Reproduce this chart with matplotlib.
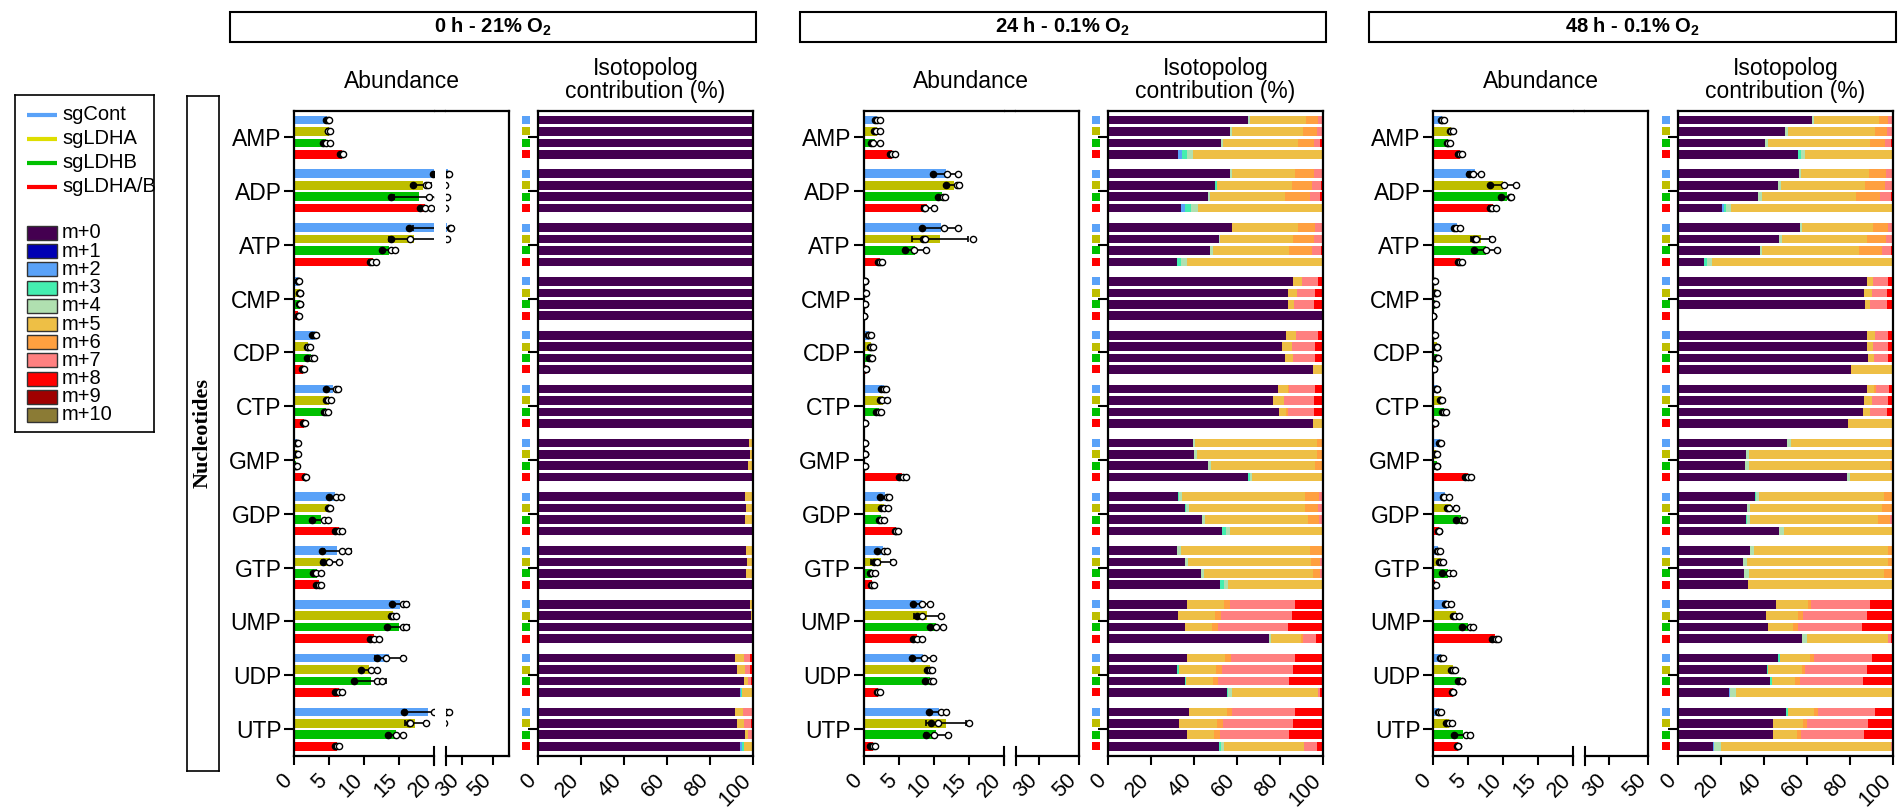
import numpy as np
import matplotlib
matplotlib.use('Agg')
import matplotlib.pyplot as plt
import matplotlib.transforms as mtransforms
from matplotlib.patches import Rectangle

plt.rcParams['font.family'] = ['Liberation Sans', 'DejaVu Sans']
plt.rcParams['mathtext.fontset'] = 'custom'
plt.rcParams['mathtext.rm'] = 'Liberation Sans'
plt.rcParams['mathtext.bf'] = 'Liberation Sans:bold'

metabolites = ['AMP', 'ADP', 'ATP', 'CMP', 'CDP', 'CTP',
               'GMP', 'GDP', 'GTP', 'UMP', 'UDP', 'UTP']
groups = ['sgCont', 'sgLDHA', 'sgLDHB', 'sgLDHA/B']
group_colors = ['#5AA2F8', '#BEBE00', '#00C000', '#FF0000']
legend_colors = ['#5AA2F8', '#DEDE00', '#00C000', '#FF0000']
isotopologs = ['m+%d' % i for i in range(11)]
iso_colors = ['#440050', '#0000B4', '#5AA2F8', '#44EEB0', '#B0E0B0', '#EEBF45',
              '#FFA040', '#FF8080', '#FF0000', '#A00000', '#8B7B35']
conditions = [r'0 h - 21% O$_\mathbf{2}$', r'24 h - 0.1% O$_\mathbf{2}$',
              r'48 h - 0.1% O$_\mathbf{2}$']

# abundance, three replicates per metabolite (order as in metabolites)
cont_0h = [[4.5, 4.8, 5.0], [19.9, 21.4, 21.7], [16.4, 22.4, 23.0], [0.5, 0.6, 0.7],
           [2.6, 3.0, 3.2], [4.6, 6.0, 6.3], [0.3, 0.4, 0.5], [5.0, 6.0, 6.7],
           [4.0, 6.9, 7.7], [14.0, 15.6, 16.0], [11.8, 13.2, 15.5], [15.7, 19.95, 21.9]]
ldha_0h = [[4.8, 4.9, 5.1], [17.0, 18.9, 19.2], [13.9, 16.6, 20.8], [0.7, 0.8, 0.9],
           [1.8, 2.0, 2.3], [4.6, 4.9, 5.3], [0.3, 0.4, 0.5], [4.8, 5.0, 5.2],
           [4.1, 5.0, 6.4], [13.8, 14.1, 14.6], [9.5, 11.0, 11.8], [16.4, 16.6, 18.9]]
ldhb_0h = [[4.1, 4.6, 5.2], [13.8, 19.3, 20.6], [12.5, 13.9, 14.4], [0.7, 0.8, 0.9],
           [1.9, 2.5, 2.8], [4.3, 4.6, 4.9], [0.2, 0.3, 0.4], [2.6, 4.3, 4.8],
           [2.7, 3.2, 3.9], [13.3, 15.5, 16.0], [8.5, 11.9, 12.6], [13.4, 14.6, 15.6]]
ldhab_0h = [[6.6, 6.8, 7.0], [18.0, 18.7, 19.6], [10.8, 11.2, 11.7], [0.5, 0.6, 0.7],
            [1.2, 1.3, 1.4], [1.3, 1.4, 1.5], [1.5, 1.6, 1.7], [5.8, 6.4, 6.9],
            [3.2, 3.5, 3.8], [10.9, 11.4, 12.1], [5.9, 6.4, 6.8], [5.9, 6.2, 6.4]]

cont_24h = [[1.6, 1.9, 2.3], [9.9, 11.9, 13.5], [8.3, 11.5, 13.5], [0.15, 0.2, 0.25],
            [0.6, 0.8, 1.0], [2.5, 2.9, 3.2], [0.1, 0.15, 0.2], [2.4, 3.3, 3.7],
            [1.9, 2.9, 3.4], [7.0, 8.4, 9.5], [6.9, 8.6, 9.9], [9.4, 11.1, 11.8]]
ldha_24h = [[1.5, 1.8, 2.3], [11.8, 13.3, 13.7], [8.5, 8.8, 15.6], [0.2, 0.25, 0.3],
            [0.9, 1.1, 1.3], [2.3, 2.6, 3.3], [0.15, 0.2, 0.25], [2.5, 2.9, 3.5],
            [1.5, 1.9, 4.2], [7.6, 8.4, 11.1], [9.0, 9.5, 9.8], [9.6, 10.6, 15.0]]
ldhb_24h = [[1.1, 1.3, 2.4], [10.6, 11.3, 11.6], [5.9, 7.2, 8.9], [0.1, 0.15, 0.2],
            [0.8, 1.0, 1.2], [1.8, 2.2, 2.5], [0.1, 0.15, 0.2], [2.2, 2.5, 2.9],
            [0.9, 1.2, 1.6], [9.5, 10.3, 11.3], [8.8, 9.7, 9.9], [8.9, 10.0, 12.0]]
ldhab_24h = [[3.8, 4.1, 4.5], [8.6, 8.8, 10.0], [2.1, 2.3, 2.6], [0.05, 0.1, 0.1],
             [0.2, 0.3, 0.4], [0.1, 0.15, 0.2], [5.1, 5.6, 6.0], [4.5, 4.7, 4.9],
             [1.0, 1.2, 1.5], [7.1, 7.6, 8.3], [1.9, 2.1, 2.3], [0.9, 1.4, 1.7]]

cont_48h = [[1.1, 1.3, 1.6], [5.2, 5.7, 6.9], [3.0, 3.3, 3.8], [0.15, 0.2, 0.25],
            [0.15, 0.2, 0.25], [0.4, 0.5, 0.6], [0.9, 1.0, 1.2], [1.4, 1.6, 2.3],
            [0.5, 0.7, 1.0], [1.7, 2.0, 2.5], [1.0, 1.2, 1.4], [0.7, 0.9, 1.1]]
ldha_48h = [[2.4, 2.6, 2.8], [8.2, 10.2, 11.8], [5.8, 6.2, 8.4], [0.35, 0.45, 0.55],
            [0.4, 0.5, 0.6], [1.0, 1.1, 1.3], [0.3, 0.4, 0.5], [2.0, 2.3, 3.3],
            [0.9, 1.1, 1.4], [2.9, 3.2, 3.7], [2.5, 2.8, 3.1], [1.8, 2.3, 2.7]]
ldhb_48h = [[2.0, 2.2, 2.4], [9.7, 11.0, 11.2], [5.9, 7.5, 9.1], [0.2, 0.3, 0.4],
            [0.5, 0.6, 0.7], [1.3, 1.6, 1.8], [0.4, 0.5, 0.6], [3.3, 4.1, 4.4],
            [1.3, 2.3, 2.9], [4.2, 5.3, 5.7], [3.5, 4.1, 4.2], [3.0, 4.7, 5.3]]
ldhab_48h = [[3.5, 3.8, 4.1], [8.1, 8.4, 9.0], [3.5, 3.8, 4.2], [0.0, 0.05, 0.05],
             [0.05, 0.1, 0.1], [0.2, 0.3, 0.35], [4.6, 5.0, 5.4], [0.7, 0.8, 0.9],
             [0.2, 0.3, 0.4], [8.4, 9.0, 9.3], [2.7, 2.8, 2.9], [3.4, 3.5, 3.6]]

# isotopolog contribution (%), {isotopolog index: percent}
iso_cont_0h = [{0: 100}, {0: 99.5, 5: 0.5}, {0: 100}, {0: 100}, {0: 100}, {0: 100},
               {0: 98, 5: 2}, {0: 96.1, 5: 3.9}, {0: 96.6, 3: 0.3, 5: 3.1},
               {0: 98.4, 5: 1.2, 7: 0.4}, {0: 91.4, 5: 4.4, 7: 3.0, 8: 1.2},
               {0: 91.4, 5: 3.9, 7: 4.2, 8: 0.5}]
iso_ldha_0h = [{0: 100}, {0: 99.5, 5: 0.5}, {0: 100}, {0: 100}, {0: 100}, {0: 100},
               {0: 98.4, 5: 1.6}, {0: 96.6, 5: 3.4}, {0: 97, 5: 3},
               {0: 98.9, 5: 0.8, 7: 0.3}, {0: 92.4, 3: 0.3, 5: 3.4, 7: 2.7, 8: 1.2},
               {0: 92.4, 5: 3.2, 7: 3.4, 8: 1.0}]
iso_ldhb_0h = [{0: 100}, {0: 99.5, 5: 0.5}, {0: 99.5, 5: 0.5}, {0: 100}, {0: 100}, {0: 100},
               {0: 97.5, 5: 2.5}, {0: 96.1, 5: 3.9}, {0: 96.6, 5: 3.4},
               {0: 99.4, 5: 0.6}, {0: 95.6, 5: 1.9, 7: 1.7, 8: 0.8},
               {0: 96.1, 5: 1.4, 7: 1.9, 8: 0.6}]
iso_ldhab_0h = [{0: 100}, {0: 99.5, 5: 0.5}, {0: 99.5, 5: 0.5}, {0: 100}, {0: 100}, {0: 100},
                {0: 100}, {0: 99.5, 5: 0.5}, {0: 100},
                {0: 100}, {0: 93.8, 2: 0.6, 3: 0.6, 5: 5.0},
                {0: 94, 2: 1.0, 3: 0.6, 5: 4.4}]

iso_cont_24h = [{0: 65.2, 4: 0.7, 5: 26.4, 6: 5.4, 7: 2.3},
                {0: 56.9, 4: 1.0, 5: 29.3, 6: 8.8, 7: 4.0},
                {0: 57.9, 5: 30.3, 6: 8.1, 7: 3.7},
                {0: 86.2, 5: 3.8, 7: 7.8, 8: 2.2},
                {0: 83.0, 5: 4.5, 7: 10.0, 8: 2.5},
                {0: 78.9, 5: 5.0, 6: 0.5, 7: 12.1, 8: 3.5},
                {0: 39.4, 4: 0.9, 5: 56.7, 6: 3.0},
                {0: 32.6, 3: 0.5, 4: 1.3, 5: 57.4, 6: 6.5, 7: 1.7},
                {0: 32.3, 4: 1.6, 5: 60.1, 6: 6.0},
                {0: 36.9, 5: 17.2, 6: 2.6, 7: 30.5, 8: 12.8},
                {0: 36.9, 5: 17.7, 6: 2.6, 7: 30.0, 8: 12.8},
                {0: 37.8, 5: 17.4, 6: 2.5, 7: 29.5, 8: 12.8}]
iso_ldha_24h = [{0: 56.9, 4: 1.0, 5: 32.6, 6: 6.5, 7: 3.0},
                {0: 49.9, 3: 1.0, 5: 34.5, 6: 9.6, 7: 4.3, 8: 0.7},
                {0: 51.4, 4: 0.7, 5: 34.1, 6: 9.8, 7: 4.0},
                {0: 83.9, 5: 3.8, 7: 8.8, 8: 3.5},
                {0: 80.9, 5: 4.6, 7: 11.0, 8: 3.5},
                {0: 76.9, 5: 5.1, 7: 14.0, 8: 4.0},
                {0: 40.1, 4: 1.3, 5: 55.6, 6: 3.0},
                {0: 35.9, 3: 0.5, 4: 1.2, 5: 54.2, 6: 5.9, 7: 2.3},
                {0: 35.9, 4: 1.2, 5: 57.1, 6: 4.3, 7: 1.5},
                {0: 32.6, 5: 17.3, 6: 2.7, 7: 32.8, 8: 14.6},
                {0: 32.3, 3: 0.6, 5: 17.5, 6: 2.7, 7: 32.8, 8: 14.1},
                {0: 33.1, 5: 17.8, 6: 2.7, 7: 32.3, 8: 14.1}]
iso_ldhb_24h = [{0: 52.7, 4: 0.9, 5: 34.9, 6: 7.5, 7: 2.8, 8: 1.2},
                {0: 46.3, 4: 1.1, 5: 35.1, 6: 11.3, 7: 5.0, 8: 1.2},
                {0: 47.6, 4: 1.3, 5: 35.5, 6: 10.6, 7: 4.3, 8: 0.7},
                {0: 83.9, 5: 2.8, 7: 9.3, 8: 4.0},
                {0: 82.5, 5: 3.5, 7: 10.5, 8: 3.5},
                {0: 79.7, 5: 3.3, 6: 0.7, 7: 12.3, 8: 4.0},
                {0: 46.6, 4: 1.5, 5: 48.4, 6: 3.5},
                {0: 43.9, 4: 1.4, 5: 47.9, 6: 5.1, 7: 1.7},
                {0: 43.4, 4: 1.2, 5: 50.6, 6: 3.3, 7: 1.5},
                {0: 35.9, 5: 12.5, 6: 2.7, 7: 32.6, 8: 16.3},
                {0: 35.9, 3: 0.5, 5: 12.5, 6: 2.3, 7: 33.2, 8: 15.6},
                {0: 36.9, 5: 12.5, 6: 2.7, 7: 32.3, 8: 15.6}]
iso_ldhab_24h = [{0: 32.6, 2: 2.0, 3: 2.3, 4: 2.7, 5: 60.4},
                 {0: 34.1, 2: 1.7, 3: 2.8, 4: 3.3, 5: 58.1},
                 {0: 31.9, 3: 2.2, 4: 2.8, 5: 63.1},
                 {0: 100},
                 {0: 95.5, 5: 4.5},
                 {0: 95.2, 5: 4.8},
                 {0: 64.9, 3: 1.0, 4: 1.2, 5: 32.9},
                 {0: 53.2, 3: 1.7, 4: 1.8, 5: 43.3},
                 {0: 52.1, 3: 2.0, 4: 1.6, 5: 44.3},
                 {0: 75.0, 4: 1.0, 5: 13.7, 6: 1.0, 7: 6.1, 8: 3.2},
                 {0: 55.2, 3: 0.5, 4: 2.0, 5: 39.8, 7: 1.3, 8: 1.2},
                 {0: 51.7, 3: 1.0, 4: 1.4, 5: 37.2, 7: 6.0, 8: 2.7}]

iso_cont_48h = [{0: 62.4, 4: 1.0, 5: 29.9, 6: 4.4, 7: 2.3},
                {0: 56.5, 4: 0.8, 5: 31.7, 6: 7.9, 7: 3.1},
                {0: 56.8, 4: 0.8, 5: 33.2, 6: 7.1, 7: 2.1},
                {0: 87.7, 5: 3.1, 7: 7.1, 8: 2.1},
                {0: 88.0, 5: 3.8, 7: 6.1, 8: 2.1},
                {0: 88.0, 5: 3.1, 6: 1.0, 7: 6.1, 8: 1.8},
                {0: 50.7, 4: 1.7, 5: 46.0, 6: 1.6},
                {0: 35.8, 3: 0.5, 4: 1.5, 5: 57.9, 6: 3.8, 7: 0.5},
                {0: 33.3, 4: 2.0, 5: 62.6, 6: 2.1},
                {0: 45.5, 5: 14.9, 6: 1.5, 7: 27.6, 8: 10.5},
                {0: 46.5, 3: 0.8, 5: 14.1, 6: 2.0, 7: 26.6, 8: 10.0},
                {0: 50.2, 3: 0.9, 5: 12.3, 6: 1.8, 7: 26.6, 8: 8.2}]
iso_ldha_48h = [{0: 49.8, 4: 1.3, 5: 40.7, 6: 5.6, 7: 2.6},
                {0: 46.6, 4: 1.2, 5: 39.4, 6: 8.9, 7: 3.9},
                {0: 47.0, 4: 1.4, 5: 39.6, 6: 8.6, 7: 3.4},
                {0: 86.7, 5: 3.4, 7: 7.3, 8: 2.6},
                {0: 87.7, 5: 2.9, 7: 7.3, 8: 2.1},
                {0: 86.7, 5: 3.4, 7: 7.8, 8: 2.1},
                {0: 31.5, 4: 1.7, 5: 66.3, 6: 0.5},
                {0: 32.0, 4: 1.7, 5: 61.4, 6: 4.4, 7: 0.5},
                {0: 30.2, 4: 1.8, 5: 65.9, 6: 2.1},
                {0: 40.9, 5: 14.9, 6: 2.3, 7: 29.6, 8: 12.3},
                {0: 41.4, 3: 0.6, 5: 15.6, 6: 1.5, 7: 28.6, 8: 12.3},
                {0: 44.2, 5: 13.9, 6: 1.8, 7: 28.6, 8: 11.5}]
iso_ldhb_48h = [{0: 40.4, 4: 1.5, 5: 47.6, 6: 6.6, 7: 3.2, 8: 0.7},
                {0: 37.1, 4: 2.0, 5: 43.8, 6: 10.9, 7: 5.1, 8: 1.1},
                {0: 38.1, 4: 1.1, 5: 45.2, 6: 10.7, 7: 4.2, 8: 0.7},
                {0: 87.2, 5: 2.3, 7: 7.9, 8: 2.6},
                {0: 88.5, 5: 2.6, 7: 6.8, 8: 2.1},
                {0: 86.2, 5: 3.0, 6: 0.3, 7: 7.9, 8: 2.6},
                {0: 31.0, 4: 1.8, 5: 65.7, 6: 1.5},
                {0: 31.5, 3: 0.5, 4: 1.7, 5: 59.1, 6: 5.7, 7: 1.5},
                {0: 30.5, 4: 2.5, 5: 62.6, 6: 3.9, 7: 0.5},
                {0: 41.9, 5: 11.6, 6: 2.3, 7: 29.9, 8: 14.3},
                {0: 42.7, 3: 0.8, 5: 11.0, 6: 2.2, 7: 29.5, 8: 13.8},
                {0: 44.2, 5: 11.1, 6: 2.0, 7: 29.4, 8: 13.3}]
iso_ldhab_48h = [{0: 55.8, 3: 1.5, 4: 1.6, 5: 41.1},
                 {0: 20.5, 2: 0.8, 3: 1.0, 4: 2.5, 5: 75.2},
                 {0: 12.3, 3: 1.0, 4: 2.3, 5: 84.4},
                 {},
                 {0: 80.6, 5: 19.4},
                 {0: 79.1, 5: 20.9},
                 {0: 78.7, 4: 1.3, 5: 20.0},
                 {0: 47.0, 4: 2.1, 5: 50.9},
                 {0: 32.5, 5: 67.5},
                 {0: 57.6, 4: 2.3, 5: 38.0, 7: 1.4, 8: 0.7},
                 {0: 23.6, 2: 0.7, 4: 2.8, 5: 72.9},
                 {0: 16.1, 2: 0.6, 4: 3.2, 5: 79.0, 7: 1.1}]

abundance = [[cont_0h, ldha_0h, ldhb_0h, ldhab_0h],
             [cont_24h, ldha_24h, ldhb_24h, ldhab_24h],
             [cont_48h, ldha_48h, ldhb_48h, ldhab_48h]]
iso_data = [[iso_cont_0h, iso_ldha_0h, iso_ldhb_0h, iso_ldhab_0h],
            [iso_cont_24h, iso_ldha_24h, iso_ldhb_24h, iso_ldhab_24h],
            [iso_cont_48h, iso_ldha_48h, iso_ldhb_48h, iso_ldhab_48h]]


def to_matrix(rows):
    m = np.zeros((len(rows), len(isotopologs)))
    for i, row in enumerate(rows):
        for j, v in row.items():
            m[i, j] = v
        if m[i].sum() > 0:
            m[i] *= 100.0 / m[i].sum()
    return m


W, H = 1901, 810
fig = plt.figure(figsize=(W / 100, H / 100), dpi=100)


def px_axes(left, top, width, height, **kw):
    return fig.add_axes([left / W, 1 - (top + height) / H, width / W, height / H], **kw)


def fig_xy(x, y):
    return x / W, 1 - y / H


# slanted x tick labels, end of the text just under the tick
label_shift = mtransforms.ScaledTranslation(-0.05, 0, fig.dpi_scale_trans)


def slant_xlabels(ax):
    ax.tick_params(axis='x', length=6.5, width=1.5, pad=9, labelsize=15.5)
    for lab in ax.get_xticklabels():
        lab.set(rotation=45, ha='right', va='center', rotation_mode='anchor')
        lab.set_transform(lab.get_transform() + label_shift)


TOP, PH = 111, 645
abund_left = [294, 863.5, 1433]
iso_left = [538, 1108, 1678]
hi_xlim = [(20, 60), (18, 50), (18, 50)]
n = len(metabolites)
ypos = np.arange(n)
offsets = (np.arange(4) - 1.5) * 0.212
bar_h = 0.16
ylim = (n - 0.5, -0.485)
dot_faces = ['black', 'white', 'white']
spine_lw = 1.6

for p in range(3):
    L, I = abund_left[p], iso_left[p]

    # abundance panel with a broken x axis
    ax_lo = px_axes(L, TOP, 140, PH)
    ax_hi = px_axes(L + 152, TOP, 63, PH, sharey=ax_lo)
    for k, reps in enumerate(abundance[p]):
        reps = np.array(reps)
        mean = reps.mean(axis=1)
        sd = reps.std(axis=1, ddof=1)
        y = ypos + offsets[k]
        for ax in (ax_lo, ax_hi):
            ax.barh(y, mean, height=bar_h, color=group_colors[k], linewidth=0, zorder=2)
            ax.errorbar(mean, y, xerr=sd, fmt='none', ecolor='black', elinewidth=1.2,
                        capsize=2.3, capthick=1.2, zorder=3)
            for r in range(reps.shape[1]):
                ax.scatter(reps[:, r], y, s=20, facecolor=dot_faces[r], edgecolor='black',
                           linewidth=1.0, zorder=4)
    ax_lo.set_xlim(0, 20)
    ax_hi.set_xlim(*hi_xlim[p])
    ax_lo.set_ylim(*ylim)
    ax_lo.set_yticks(ypos)
    ax_lo.set_yticklabels(metabolites, fontsize=16.5)
    ax_lo.tick_params(axis='y', length=7, width=1.5, pad=2)
    ax_hi.tick_params(axis='y', left=False, labelleft=False)
    ax_lo.set_xticks([0, 5, 10, 15, 20])
    ax_hi.set_xticks([30, 50])
    for ax in (ax_lo, ax_hi):
        slant_xlabels(ax)
        for sp in ax.spines.values():
            sp.set_linewidth(spine_lw)
    ax_lo.spines['right'].set_visible(False)
    ax_hi.spines['left'].set_visible(False)
    # top frame across the gap and the break marks
    ax_lo.plot([1, 152 / 140], [1, 1], transform=ax_lo.transAxes, color='black',
               lw=spine_lw, clip_on=False, solid_capstyle='butt')
    ax_lo.plot([1, 1], [-0.014, 0.014], transform=ax_lo.transAxes, color='black',
               lw=1.5, clip_on=False)
    ax_hi.plot([0, 0], [-0.014, 0.014], transform=ax_hi.transAxes, color='black',
               lw=1.5, clip_on=False)

    # isotopolog stacked bars
    ax_iso = px_axes(I, TOP, 215, PH)
    trans = mtransforms.blended_transform_factory(ax_iso.transAxes, ax_iso.transData)
    for k, rows in enumerate(iso_data[p]):
        frac = to_matrix(rows)
        y = ypos + offsets[k]
        left = np.zeros(n)
        for j in range(len(isotopologs)):
            ax_iso.barh(y, frac[:, j], left=left, height=bar_h, color=iso_colors[j], linewidth=0)
            left += frac[:, j]
        ax_iso.scatter(np.full(n, -0.0535), y, transform=trans, marker='s', s=34,
                       color=group_colors[k], linewidths=0, clip_on=False)
    ax_iso.set_xlim(0, 100)
    ax_iso.set_ylim(*ylim)
    ax_iso.set_yticks(ypos)
    ax_iso.set_yticklabels([])
    ax_iso.tick_params(axis='y', length=7, width=1.5)
    ax_iso.set_xticks(range(0, 101, 20))
    slant_xlabels(ax_iso)
    for sp in ax_iso.spines.values():
        sp.set_linewidth(spine_lw)

    # panel titles and condition header
    fig.text(*fig_xy(L + 107.5, 81), 'Abundance', ha='center', va='center', fontsize=16.5)
    fig.text(*fig_xy(I + 107.5, 80), 'Isotopolog\ncontribution (%)', ha='center',
             va='center', fontsize=16.5, linespacing=0.95)
    hx0, hx1 = L - 64, I + 218
    fig.add_artist(Rectangle(fig_xy(hx0, 42), (hx1 - hx0) / W, 30 / H,
                             transform=fig.transFigure, fill=False, lw=1.5, ec='black'))
    fig.text(*fig_xy((hx0 + hx1) / 2, 27), conditions[p], ha='center', va='center',
             fontsize=14.5, fontweight='bold')

# row label box
nax = px_axes(187, 96, 32, 675)
nax.set_xticks([])
nax.set_yticks([])
for sp in nax.spines.values():
    sp.set_linewidth(1.2)
nax.text(0.5, 0.5, 'Nucleotides', rotation=90, ha='center', va='center',
         transform=nax.transAxes, fontsize=16, fontweight='bold',
         family=['Liberation Serif', 'DejaVu Serif'])

# legend box, drawn in pixel units
lax = px_axes(15, 95, 139, 337)
lax.set_xlim(0, 139)
lax.set_ylim(337, 0)
lax.set_xticks([])
lax.set_yticks([])
for sp in lax.spines.values():
    sp.set_linewidth(1.2)
for k, name in enumerate(groups):
    yy = 20 + 24 * k
    lax.plot([12, 42], [yy, yy], color=legend_colors[k], lw=3, solid_capstyle='butt')
    lax.text(47, yy, name, va='center', ha='left', fontsize=14.5)
for j, name in enumerate(isotopologs):
    yy = 138 + 18.2 * j
    lax.add_patch(Rectangle((12, yy - 7), 30, 14, facecolor=iso_colors[j],
                            edgecolor='#333333', lw=1))
    lax.text(47, yy, name, va='center', ha='left', fontsize=14.5)

fig.savefig('out.png', dpi=100)
